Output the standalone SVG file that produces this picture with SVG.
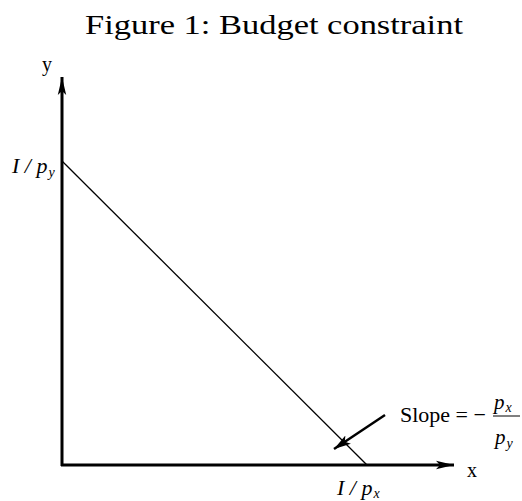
<svg xmlns="http://www.w3.org/2000/svg" width="522" height="501" viewBox="0 0 522 501">
<style>
.title{font-family:"Liberation Serif","DejaVu Serif",serif;font-size:27px;fill:#000}
.lbl{font-family:"Liberation Serif",serif;fill:#000}
.it{font-family:"Liberation Serif",serif;font-style:italic;fill:#000}
.axis{stroke:#000;stroke-width:3;fill:none}
.thin{stroke:#000;stroke-width:1.3;fill:none}
.ptr{stroke:#000;stroke-width:2.5;fill:none}
</style>
<defs>
<marker id="ah" markerWidth="20" markerHeight="10" refX="18" refY="5" orient="auto" markerUnits="userSpaceOnUse">
<path d="M0,0.8 L18,5 L0,9.2 L4,5 Z" fill="#000"/>
</marker>
<marker id="ah2" markerWidth="20" markerHeight="12" refX="17" refY="6" orient="auto" markerUnits="userSpaceOnUse">
<path d="M0,1 L17,6 L0,11 L4,6 Z" fill="#000"/>
</marker>
</defs>
<text class="title" x="274" y="34" text-anchor="middle" textLength="378" lengthAdjust="spacingAndGlyphs">Figure 1: Budget constraint</text>
<g id="connectors">
<line class="axis" x1="62" y1="466" x2="62" y2="77" marker-end="url(#ah)"/>
<line class="axis" x1="61" y1="465" x2="454" y2="465" marker-end="url(#ah)"/>
<line class="thin" x1="62" y1="161" x2="367" y2="465"/>
<line class="ptr" x1="385" y1="415" x2="334" y2="449" marker-end="url(#ah2)"/>
</g>
<g id="label-y"><text class="lbl" x="42" y="71" font-size="20">y</text></g>
<g id="label-x"><text class="lbl" x="467" y="477" font-size="20">x</text></g>
<g id="label-Ipy"><text class="it" x="12" y="173" font-size="22">I / p<tspan font-size="14" dx="1" dy="4">y</tspan></text></g>
<g id="label-Ipx"><text class="it" x="337" y="495" font-size="22">I / p<tspan font-size="14" dx="1" dy="3">x</tspan></text></g>
<g id="label-slope">
<text class="lbl" x="400" y="422" font-size="22">Slope = −</text>
<text class="it" x="494" y="409" font-size="21">p<tspan font-size="14" dx="1" dy="3">x</tspan></text>
<line x1="493" y1="416" x2="520" y2="416" stroke="#000" stroke-width="1"/>
<text class="it" x="495" y="444" font-size="21">p<tspan font-size="14" dx="1" dy="4">y</tspan></text>
</g>
</svg>
